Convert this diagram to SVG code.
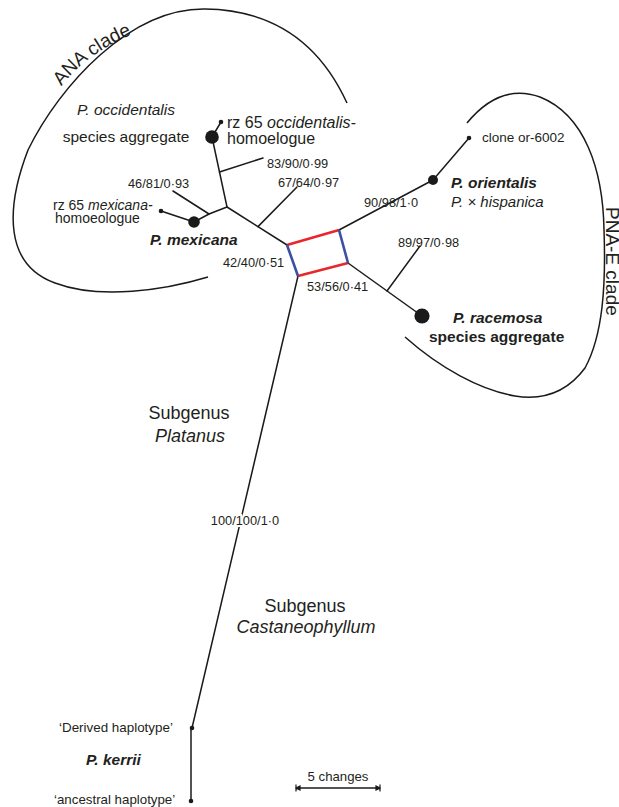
<svg xmlns="http://www.w3.org/2000/svg" width="619" height="807" viewBox="0 0 619 807">
<style>
text{font-family:"Liberation Sans",Arial,sans-serif;fill:#231f20}
.n{font-size:12.8px}
.lab{font-size:15.5px}
.it{font-style:italic}
.bi{font-style:italic;font-weight:bold}
.b{font-weight:bold}
.clade{font-size:19px}
.sub{font-size:18px}
.edge{stroke:#1a1a1a;stroke-width:1.5;fill:none;stroke-linecap:round}
.hull{stroke:#1a1a1a;stroke-width:1.5;fill:none}
.red{stroke:#e8262b;stroke-width:2.6;fill:none}
.blue{stroke:#3b4fa3;stroke-width:2.6;fill:none}
.dot{fill:#1a1a1a}
.halo{paint-order:stroke;stroke:#fff;stroke-width:4px}
</style>
<defs>
<path id="anaTextPath" d="M60,88 C 80,62 105,44 150,27"/>
<marker id="barEnd" markerWidth="8" markerHeight="8" refX="7" refY="4" orient="auto" markerUnits="userSpaceOnUse">
<path d="M7,0.5 L7,7.5 M7,4 L3,2 L3,6 Z" stroke="#1a1a1a" stroke-width="1.2" fill="#1a1a1a"/>
</marker>
<marker id="barStart" markerWidth="8" markerHeight="8" refX="1" refY="4" orient="auto" markerUnits="userSpaceOnUse">
<path d="M1,0.5 L1,7.5 M1,4 L5,2 L5,6 Z" stroke="#1a1a1a" stroke-width="1.2" fill="#1a1a1a"/>
</marker>
</defs>
<rect width="619" height="807" fill="#fff"/>

<g id="clade-hulls">
<path id="ana-hull" class="hull" d="M347,103 C 325,55 285,10 205,9 C 130,8 60,85 28,150 C 5,210 5,265 55,283 C 100,300 165,290 208,277"/>
<path id="pnae-hull" class="hull" d="M467,123 C 490,95 515,88 540,97 C 585,115 603,170 604,230 C 606,285 603,335 585,368 C 565,395 540,400 515,396 C 480,390 440,368 405,337"/>
<text class="clade"><textPath href="#anaTextPath" startOffset="2">ANA clade</textPath></text>
<text class="clade" transform="translate(606,207) rotate(90)">PNA-E clade</text>
</g>

<g id="connectors">
<path class="edge" d="M221,122 L212,137"/>
<path class="edge" d="M212,137 L227,207"/>
<path class="edge" d="M219.5,172 L263,158"/>
<path class="edge" d="M227,207 L209,214 L194,222"/>
<path class="edge" d="M209,214 L173,191"/>
<path class="edge" d="M194,222 L161,211"/>
<path class="edge" d="M227,207 L287,245"/>
<path class="edge" d="M258,226.6 L297,187"/>
<path class="edge" d="M339,230 L433,180"/>
<path class="edge" d="M433,180 L469,138"/>
<path class="edge" d="M348,263 L422,316"/>
<path class="edge" d="M387,291 L420,246"/>
<path class="edge" d="M298,276 L192,728"/>
<path class="edge" d="M191,728 L191,801"/>
<path class="red" d="M287,245 L339,230"/>
<path class="red" d="M298,276 L348,263"/>
<path class="blue" d="M287,245 L298,276"/>
<path class="blue" d="M339,230 L348,263"/>
</g>

<g id="node-occidentalis">
<circle class="dot" cx="212" cy="137" r="6.8"/>
<text class="lab it" x="126" y="115" text-anchor="middle">P. occidentalis</text>
<text class="lab" x="126" y="142" text-anchor="middle">species aggregate</text>
</g>
<g id="node-rz65-occidentalis">
<circle class="dot" cx="221" cy="122" r="2.3"/>
<text x="227" y="128" style="font-size:16px">rz 65 <tspan class="it">occidentalis-</tspan></text>
<text x="227" y="144" style="font-size:16px">homoelogue</text>
</g>
<g id="node-mexicana">
<circle class="dot" cx="194" cy="222" r="5.8"/>
<text class="lab bi" x="150" y="245">P. mexicana</text>
</g>
<g id="node-rz65-mexicana">
<circle class="dot" cx="161" cy="211" r="2.3"/>
<text x="53" y="210" style="font-size:14px">rz 65 <tspan class="it">mexicana-</tspan></text>
<text x="55" y="223" style="font-size:14px">homoeologue</text>
</g>
<g id="node-orientalis">
<circle class="dot" cx="433" cy="180" r="5"/>
<text class="lab bi" x="451" y="188">P. orientalis</text>
<text class="it" x="451" y="207" style="font-size:15px">P. × hispanica</text>
</g>
<g id="node-clone">
<circle class="dot" cx="469" cy="138" r="2.3"/>
<text x="482" y="142" style="font-size:13.5px">clone or-6002</text>
</g>
<g id="node-racemosa">
<circle class="dot" cx="422" cy="316" r="7.6"/>
<text class="lab bi" x="453" y="323">P. racemosa</text>
<text class="lab b" x="429" y="342">species aggregate</text>
</g>
<g id="node-kerrii-derived">
<circle class="dot" cx="192" cy="728" r="2.3"/>
<text x="59" y="732" style="font-size:13.4px">‘Derived haplotype’</text>
</g>
<g id="node-kerrii-ancestral">
<circle class="dot" cx="191" cy="801" r="2.3"/>
<text x="54" y="804" style="font-size:13.3px">‘ancestral haplotype’</text>
</g>
<g id="label-kerrii">
<text class="lab bi" x="86" y="765">P. kerrii</text>
</g>

<g id="support-labels">
<text class="n" x="267" y="168">83/90/0·99</text>
<text class="n" x="278" y="187">67/64/0·97</text>
<text class="n" x="128" y="188">46/81/0·93</text>
<text class="n" x="223" y="267">42/40/0·51</text>
<text class="n" x="307" y="291">53/56/0·41</text>
<text class="n" x="364" y="207">90/98/1·0</text>
<text class="n" x="398" y="247">89/97/0·98</text>
<text class="n halo" x="245" y="525" text-anchor="middle">100/100/1·0</text>
</g>

<g id="subgenus-labels">
<text class="sub" x="189" y="419" text-anchor="middle">Subgenus</text>
<text class="sub it" x="190" y="442" text-anchor="middle">Platanus</text>
<text class="sub" x="305" y="612" text-anchor="middle">Subgenus</text>
<text class="sub it" x="306" y="633" text-anchor="middle">Castaneophyllum</text>
</g>

<g id="scale-bar">
<path d="M296,788 L380,788" stroke="#1a1a1a" stroke-width="1.3" marker-start="url(#barStart)" marker-end="url(#barEnd)"/>
<text x="338" y="781" text-anchor="middle" style="font-size:13.2px">5 changes</text>
</g>
</svg>
